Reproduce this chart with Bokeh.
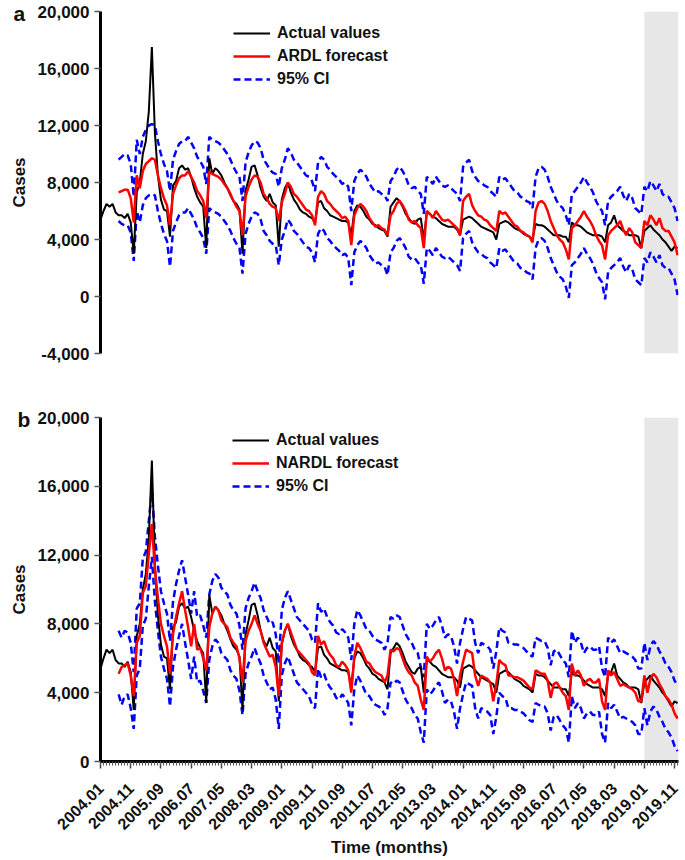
import math
from bokeh.plotting import figure
from bokeh.models import (ColumnDataSource, Range1d, FixedTicker, NumeralTickFormatter,
                          Legend, LegendItem, BoxAnnotation, Title)
from bokeh.layouts import column
from bokeh.embed import file_html
from bokeh.resources import INLINE

# ---------------- data ----------------
months = [f"{y}.{m:02d}" for y in range(2004, 2020) for m in range(1, 13)]
tick_labels = ["2004.01", "2004.11", "2005.09", "2006.07", "2007.05", "2008.03",
               "2009.01", "2009.11", "2010.09", "2011.07", "2012.05", "2013.03",
               "2014.01", "2014.11", "2015.09", "2016.07", "2017.05", "2018.03",
               "2019.01", "2019.11"]
forecast_start = "2004.07"
shade_start = "2019.01"
y_ticks_a = [-4000, 0, 4000, 8000, 12000, 16000, 20000]
y_ticks_b = [0, 4000, 8000, 12000, 16000, 20000]

actual = [
    5400, 6000, 6500, 6300, 6500, 5900, 5700, 5700, 5500, 5800, 5200, 3000,
    7300, 8000, 10000, 10900, 13000, 17500, 11500, 8500, 6800, 6100, 6000, 4200,
    7800, 8100, 9000, 9200, 8900, 9000, 8400, 7600, 7000, 6600, 6300, 3400,
    9700, 8600, 9000, 8800, 8500, 8000, 7600, 7100, 6700, 6500, 6100, 3000,
    7400, 8200, 9100, 9200, 8500, 7600, 7000, 6700, 7200, 6600, 6400, 3500,
    6800, 7600, 8000, 7300, 6800, 6500, 6100, 5900, 5800, 5600, 5500, 5200,
    6600, 6700, 6200, 6000, 5700, 5600, 5500, 5400, 5300, 5300, 5200, 4300,
    6000, 6400, 6300, 6000, 5600, 5400, 5100, 5000, 4800, 4700, 4600, 4200,
    6300, 6600, 6900, 6700, 6300, 5800, 5500, 5200, 5100, 5400, 5500, 4000,
    5900, 5800, 5600, 5500, 5300, 5100, 5000, 4900, 4900, 4900, 4700, 4300,
    5400, 5500, 5600, 5500, 5300, 5100, 4900, 4800, 4700, 4600, 4500, 4000,
    5100, 5200, 5300, 5200, 5000, 4800, 4700, 4600, 4400, 4300, 4200, 4000,
    5100, 5000, 5000, 4900, 4700, 4500, 4300, 4300, 4300, 4200, 4200, 3800,
    5200, 5000, 5000, 4900, 4700, 4500, 4400, 4300, 4300, 4300, 4200, 3800,
    5000, 5200, 5700, 5000, 4800, 4600, 4500, 4300, 4300, 4300, 4200, 3400,
    4600, 4800, 5000, 4700, 4500, 4300, 4000, 3800, 3500, 3200, 3500, 3400,
]

ardl_forecast = [
    7300, 7400, 7500, 7500, 6900, 5200,
    8500, 7600, 8800, 9300, 9500, 9700, 9600, 8500, 7600, 6900, 6400, 5000,
    7200, 7800, 8300, 8500, 8500, 8800, 8400, 8000, 7400, 7100, 6700, 5500,
    8800, 8600, 8500, 8400, 8200, 7900, 7600, 7200, 6700, 6300, 6000, 4300,
    7000, 7700, 8200, 8500, 8400, 8000, 7200, 6900, 6500, 6300, 6200, 5300,
    6600, 7200, 8000, 7700, 7200, 7000, 6700, 6400, 6100, 6000, 5700, 5000,
    7000, 7400, 7200, 6700, 6500, 6200, 6000, 5800, 5500, 5600, 5300, 3600,
    5700, 6200, 6500, 6300, 6000, 5500, 5200, 4900, 5000, 4800, 4700, 4300,
    5700, 6000, 6500, 6700, 6400, 6000, 5400, 5200, 5300, 5000, 4800, 3400,
    6000, 5800, 5500, 6000, 5700, 5400, 5300, 5400, 5200, 5000, 4800, 4300,
    6700, 7000, 7200, 6400, 6000, 5700, 5600, 5400, 5300, 5000, 4800, 4600,
    6000, 5800, 5900, 5600, 5300, 5000, 4900, 4600, 4500, 4300, 4200, 3800,
    6000, 6600, 6700, 6500, 6000, 5300, 4800, 4300, 4000, 3800, 3300, 2600,
    4800, 5000, 5300, 5600, 6000, 5600, 5300, 4900, 4300, 3900, 3600, 2600,
    4300, 4600, 4800, 5000, 5300, 4700, 4300, 4800, 4500, 3800, 3600, 3400,
    5300, 5000, 5700, 5400, 5000, 5500, 4800, 4600, 4600, 4200, 3800, 2900,
]
ardl_upper = [
    9600, 9800, 10000, 9900, 9300, 7000,
    11000, 10000, 11200, 11700, 12000, 12100, 12000, 10900, 10000, 9300, 8800, 7400,
    9600, 10200, 10700, 10900, 10900, 11200, 10800, 10400, 9800, 9500, 9100, 7900,
    11200, 11000, 10900, 10800, 10600, 10300, 10000, 9600, 9100, 8700, 8400, 6700,
    9400, 10100, 10600, 10900, 10800, 10400, 9600, 9300, 8900, 8700, 8600, 7700,
    9000, 9600, 10400, 10100, 9600, 9400, 9100, 8800, 8500, 8400, 8100, 7400,
    9400, 9800, 9600, 9100, 8900, 8600, 8400, 8200, 7900, 8000, 7700, 6000,
    8100, 8600, 8900, 8700, 8400, 7900, 7600, 7300, 7400, 7200, 7100, 6700,
    8100, 8400, 8900, 9100, 8800, 8400, 7800, 7600, 7700, 7400, 7200, 5800,
    8400, 8200, 7900, 8400, 8100, 7800, 7700, 7800, 7600, 7400, 7200, 6700,
    9100, 9400, 9600, 8800, 8400, 8100, 8000, 7800, 7700, 7400, 7200, 7000,
    8400, 8200, 8300, 8000, 7700, 7400, 7300, 7000, 6900, 6700, 6600, 6200,
    8400, 9000, 9100, 8900, 8400, 7700, 7200, 6700, 6400, 6200, 5700, 5000,
    7200, 7400, 7700, 8000, 8400, 8000, 7700, 7300, 6700, 6300, 6000, 5000,
    6700, 7000, 7200, 7400, 7700, 7100, 6700, 7200, 6900, 6200, 6000, 5800,
    7700, 7400, 8100, 7800, 7400, 7900, 7200, 7000, 7000, 6600, 6200, 5300,
]
ardl_lower = [
    5300, 5100, 5000, 5000, 4500, 2500,
    6000, 5200, 6400, 6900, 7100, 7200, 7100, 6000, 5100, 4400, 3900, 2100,
    4600, 5200, 5700, 5900, 5900, 6200, 5800, 5400, 4800, 4500, 4100, 3000,
    6200, 6000, 5900, 5800, 5600, 5300, 5000, 4600, 4100, 3700, 3400, 1600,
    4400, 5100, 5600, 5900, 5800, 5400, 4600, 4300, 3900, 3700, 3600, 2200,
    4000, 4600, 5400, 5100, 4600, 4400, 4100, 3800, 3500, 3400, 3100, 2400,
    4400, 4800, 4600, 4100, 3900, 3600, 3400, 3200, 2900, 3000, 2700, 800,
    3100, 3600, 3900, 3700, 3400, 2900, 2600, 2300, 2400, 2200, 2100, 1500,
    3100, 3400, 3900, 4100, 3800, 3400, 2800, 2600, 2700, 2400, 2200, 900,
    3400, 3200, 2900, 3400, 3100, 2800, 2700, 2800, 2600, 2400, 2200, 1800,
    4100, 4400, 4600, 3800, 3400, 3100, 3000, 2800, 2700, 2400, 2200, 2000,
    3400, 3200, 3300, 3000, 2700, 2400, 2300, 2000, 1900, 1700, 1600, 1200,
    3400, 4000, 4100, 3900, 3400, 2700, 2200, 1700, 1400, 1200, 700, -100,
    2200, 2400, 2700, 3000, 3400, 3000, 2700, 2300, 1700, 1300, 1000, -200,
    1700, 2000, 2200, 2400, 2700, 2100, 1700, 2200, 1900, 1200, 1000, 800,
    2700, 2400, 3100, 2800, 2400, 2900, 2200, 2000, 2000, 1600, 1200, 100,
]

nardl_forecast = [
    5100, 5500, 5600, 5700, 5000, 3800,
    6900, 7300, 9800, 10200, 12100, 13800, 11200, 9500, 8000, 7300, 6700, 5100,
    7400, 8400, 9200, 9900, 8800, 7800, 6700, 8000, 6500, 6600, 6000, 5300,
    7800, 8600, 9000, 8800, 8200, 8000, 7800, 7200, 6900, 6700, 6000, 4600,
    7000, 7600, 8000, 8500, 8000, 7600, 6900, 6500, 6100, 6200, 5500, 3800,
    6900, 7600, 8000, 7500, 7000, 6500, 6300, 6100, 5900, 5700, 5200, 5000,
    7300, 6800, 7000, 6500, 6200, 6000, 5600, 5500, 5800, 5600, 5300, 4000,
    6100, 6900, 6600, 6200, 5800, 5700, 5400, 5200, 5100, 5000, 4600, 5000,
    6500, 6400, 6600, 6500, 6000, 5500, 5200, 5000, 4600, 4400, 3600, 3000,
    6100, 5800, 6000, 6300, 6500, 6000, 5300, 5500, 5400, 4800, 3800, 5000,
    5800, 6500, 6400, 6300, 5000, 4400, 5000, 4900, 4800, 4600, 3500, 4500,
    5900, 5700, 5600, 5000, 5000, 4900, 4900, 4800, 4700, 4500, 4300, 4200,
    5300, 5200, 5100, 5100, 4700, 3700, 4500, 4600, 4300, 4000, 3800, 3000,
    5700, 5000, 5300, 5000, 4400, 4700, 4800, 4600, 4600, 4800, 3500, 3000,
    5300, 5000, 5200, 4800, 4400, 4500, 4400, 4300, 4200, 4000, 3500, 3500,
    5000, 4000, 4800, 5100, 4900, 4500, 4200, 3800, 3600, 3300, 2800, 2500,
]
nardl_upper = [
    7600, 7200, 7600, 7500, 6900, 5200,
    8900, 9200, 11800, 12200, 14000, 15800, 13100, 11400, 9900, 9200, 8600, 7000,
    9300, 10300, 11100, 11700, 10700, 9700, 8600, 9900, 8400, 8500, 7900, 7200,
    9700, 10500, 10900, 10700, 10100, 9900, 9700, 9100, 8800, 8600, 7900, 6500,
    8900, 9500, 9900, 10400, 9900, 9500, 8800, 8400, 8000, 8100, 7400, 5700,
    8800, 9500, 9900, 9400, 8900, 8400, 8200, 8000, 7800, 7600, 7100, 6900,
    9200, 8700, 8900, 8400, 8100, 7900, 7500, 7400, 7700, 7500, 7200, 5900,
    8000, 8800, 8500, 8100, 7700, 7600, 7300, 7100, 7000, 6900, 6500, 6900,
    8400, 8300, 8500, 8400, 7900, 7400, 7100, 6900, 6500, 6300, 5500, 4900,
    8000, 7700, 7900, 8200, 8400, 7900, 7200, 7400, 7300, 6700, 5700, 6900,
    7700, 8400, 8300, 8200, 6900, 6300, 6900, 6800, 6700, 6500, 5400, 6400,
    7800, 7600, 7500, 6900, 6900, 6800, 6800, 6700, 6600, 6400, 6200, 6100,
    7200, 7100, 7000, 7000, 6600, 5600, 6400, 6500, 6200, 5900, 5700, 4900,
    7600, 6900, 7200, 6900, 6300, 6600, 6700, 6500, 6500, 6700, 5400, 4900,
    7200, 6900, 7100, 6700, 6300, 6400, 6300, 6200, 6100, 5900, 5400, 5400,
    6900, 5900, 6700, 7000, 6800, 6400, 6100, 5700, 5500, 5200, 4700, 4400,
]
nardl_lower = [
    3900, 3300, 3800, 3900, 3100, 1900,
    5000, 5400, 7900, 8300, 10200, 11900, 9300, 7600, 6100, 5400, 4800, 3200,
    5500, 6500, 7300, 8000, 6900, 5900, 4800, 6100, 4600, 4700, 4100, 3400,
    5900, 6700, 7100, 6900, 6300, 6100, 5900, 5300, 5000, 4800, 4100, 2700,
    5100, 5700, 6100, 6600, 6100, 5700, 5000, 4600, 4200, 4300, 3600, 1900,
    5000, 5700, 6100, 5600, 5100, 4600, 4400, 4200, 4000, 3800, 3300, 3100,
    5400, 4900, 5100, 4600, 4300, 4100, 3700, 3600, 3900, 3700, 3400, 2100,
    4200, 5000, 4700, 4300, 3900, 3800, 3500, 3300, 3200, 3100, 2700, 3100,
    4600, 4500, 4700, 4600, 4100, 3600, 3300, 3100, 2700, 2500, 1700, 1100,
    4200, 3900, 4100, 4400, 4600, 4100, 3400, 3600, 3500, 2900, 1900, 3100,
    3900, 4600, 4500, 4400, 3100, 2500, 3100, 3000, 2900, 2700, 1600, 2600,
    4000, 3800, 3700, 3100, 3100, 3000, 3000, 2900, 2800, 2600, 2400, 2300,
    3400, 3300, 3200, 3200, 2800, 1800, 2600, 2700, 2400, 2100, 1900, 1100,
    3800, 3100, 3400, 3100, 2500, 2800, 2900, 2700, 2700, 2900, 1600, 1100,
    3400, 3100, 3300, 2900, 2500, 2600, 2500, 2400, 2300, 2100, 1600, 1600,
    3100, 2100, 2900, 3200, 3000, 2600, 2300, 1900, 1700, 1400, 900, 600,
]

# ---------------- chart ----------------
FONT = "Liberation Sans"
TXT = "#111111"
x_all = list(range(len(months)))
i0 = months.index(forecast_start)
x_fc = x_all[i0:]
for arr in (ardl_forecast, ardl_upper, ardl_lower, nardl_forecast, nardl_upper, nardl_lower):
    assert len(arr) == len(x_fc), len(arr)
assert len(actual) == len(months)


def make_panel(letter, fc, lo, hi, fc_label, y_ticks, height, mbt, mbb, mbl,
               legend_loc, letter_offset, letter_standoff, show_x):
    p = figure(width=685, height=height,
               x_range=Range1d(0, len(months) - 0.7),
               y_range=Range1d(y_ticks[0], y_ticks[-1]),
               output_backend="svg", toolbar_location=None,
               min_border_left=mbl, min_border_right=7,
               min_border_top=mbt, min_border_bottom=mbb)
    p.grid.visible = False
    p.outline_line_color = None
    p.add_layout(BoxAnnotation(left=months.index(shade_start), fill_color="#e7e7e7",
                               fill_alpha=1, line_color=None, level="underlay"))

    src = ColumnDataSource(dict(x=x_fc, fc=fc, lo=lo, hi=hi))
    r_lo = p.line("x", "lo", source=src, color="#0000ff", line_width=2.5, line_dash="7 4")
    r_hi = p.line("x", "hi", source=src, color="#0000ff", line_width=2.5, line_dash="7 4")
    r_act = p.line(x_all, actual, color="black", line_width=2)
    r_fc = p.line("x", "fc", source=src, color="#ff0000", line_width=2.5)

    legend = Legend(items=[LegendItem(label="Actual values", renderers=[r_act]),
                           LegendItem(label=fc_label, renderers=[r_fc]),
                           LegendItem(label="95% CI", renderers=[r_hi])],
                    location=legend_loc, padding=0, margin=0, spacing=3,
                    glyph_width=37, glyph_height=20, label_height=20,
                    label_standoff=7, border_line_color=None,
                    background_fill_alpha=0,
                    label_text_font=FONT, label_text_font_style="bold",
                    label_text_font_size="16px", label_text_color=TXT)
    p.add_layout(legend)

    ya = p.yaxis[0]
    ya.ticker = FixedTicker(ticks=y_ticks, minor_ticks=[])
    ya.formatter = NumeralTickFormatter(format="0,0")
    ya.axis_line_width = 3
    ya.major_tick_out = 6
    ya.major_tick_in = 0
    ya.major_tick_line_width = 1.5
    ya.major_tick_line_color = "#555555"
    ya.minor_tick_out = 0
    ya.minor_tick_in = 0
    ya.major_label_standoff = 5
    ya.major_label_text_font = FONT
    ya.major_label_text_font_style = "bold"
    ya.major_label_text_font_size = "17px"
    ya.major_label_text_color = TXT
    ya.axis_label = "Cases"
    ya.axis_label_text_font = FONT
    ya.axis_label_text_font_style = "bold"
    ya.axis_label_text_font_size = "17px"
    ya.axis_label_text_color = TXT
    ya.axis_label_standoff = 6

    xa = p.xaxis[0]
    if show_x:
        xa.ticker = FixedTicker(ticks=[months.index(t) for t in tick_labels],
                                minor_ticks=x_all)
        xa.major_label_overrides = {months.index(t): t for t in tick_labels}
        xa.major_label_orientation = math.pi / 4
        xa.axis_line_width = 3
        xa.major_tick_out = 7
        xa.major_tick_in = 0
        xa.minor_tick_out = 4
        xa.minor_tick_in = 0
        xa.major_tick_line_width = 1.5
        xa.minor_tick_line_width = 1
        xa.major_tick_line_color = "#444444"
        xa.minor_tick_line_color = "#555555"
        xa.major_label_standoff = 17
        xa.major_label_text_font = FONT
        xa.major_label_text_font_style = "bold"
        xa.major_label_text_font_size = "16px"
        xa.major_label_text_color = TXT
        xa.axis_label = "Time (months)"
        xa.axis_label_text_font = FONT
        xa.axis_label_text_font_style = "bold"
        xa.axis_label_text_font_size = "17px"
        xa.axis_label_text_color = TXT
        xa.axis_label_standoff = 0
    else:
        xa.visible = False

    p.add_layout(Title(text=letter, align="left", offset=letter_offset,
                       standoff=letter_standoff, text_font=FONT,
                       text_font_style="bold", text_font_size="21px",
                       text_color=TXT), "above")
    return p


pa = make_panel("a", ardl_forecast, ardl_lower, ardl_upper, "ARDL forecast",
                y_ticks_a, height=365, mbt=11, mbb=12, mbl=100,
                legend_loc=(133, 264), letter_offset=-87, letter_standoff=-26,
                show_x=False)
pb = make_panel("b", nardl_forecast, nardl_lower, nardl_upper, "NARDL forecast",
                y_ticks_b, height=494, mbt=52, mbb=96, mbl=98,
                legend_loc=(132, 265), letter_offset=-83, letter_standoff=-26,
                show_x=True)

layout = column(pa, pb, spacing=0)
open("out.html", "w").write(file_html(layout, INLINE))
